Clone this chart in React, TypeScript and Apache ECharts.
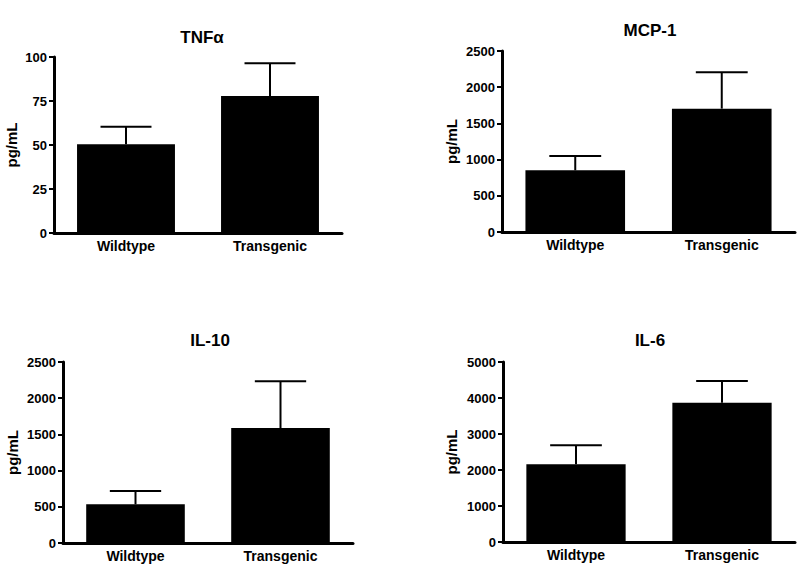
import React, { useEffect, useRef } from "react";
import * as echarts from "echarts";

const categories = ["Wildtype", "Transgenic"];
const titles = ["TNFα", "MCP-1", "IL-10", "IL-6"];
const tnfMeans = [50.4, 77.9];
const tnfErrors = [10.0, 18.5];
const mcpMeans = [852, 1704];
const mcpErrors = [198, 502];
const il10Means = [534, 1588];
const il10Errors = [184, 645];
const il6Means = [2159, 3865];
const il6Errors = [526, 609];
const yMax = [100, 2500, 2500, 5000];
const yInterval = [25, 500, 500, 1000];
const yName = "pg/mL";

const FONT = "'Liberation Sans', Arial, sans-serif";

export default function App() {
  const ref = useRef<HTMLDivElement>(null);
  useEffect(() => {
    if (!ref.current) return;
    const chart = echarts.init(ref.current, null, { renderer: "svg" });
    const means = [tnfMeans, mcpMeans, il10Means, il6Means];
    const errors = [tnfErrors, mcpErrors, il10Errors, il6Errors];
    const grids = [
      { left: 54, top: 57, width: 288, height: 176 },
      { left: 502, top: 51, width: 293, height: 181 },
      { left: 63, top: 362, width: 290, height: 181 },
      { left: 503, top: 362, width: 292, height: 180 },
    ];
    const titlePos = [
      { x: 197, y: 32 },
      { x: 645, y: 25 },
      { x: 205, y: 335 },
      { x: 645, y: 335 },
    ];
    const nameGaps = [35, 43, 43, 44];
    const option: any = {
      animation: false,
      backgroundColor: "#fff",
      textStyle: { fontFamily: FONT },
      title: titles.map((t, i) => ({
        text: t,
        left: titlePos[i].x,
        top: titlePos[i].y,
        textAlign: "center",
        textVerticalAlign: "middle",
        textStyle: { fontSize: 17, fontWeight: "bold", color: "#000", fontFamily: FONT },
      })),
      grid: grids.map((g) => ({ ...g, containLabel: false })),
      xAxis: grids.map((_, i) => ({
        type: "category",
        gridIndex: i,
        data: categories,
        boundaryGap: true,
        axisLine: { lineStyle: { color: "#000", width: 3 } },
        axisTick: { alignWithLabel: true, length: 5, lineStyle: { color: "#000", width: 2 } },
        axisLabel: { color: "#000", fontSize: 14, fontWeight: "bold", margin: 6, fontFamily: FONT },
        splitLine: { show: false },
      })),
      yAxis: grids.map((_, i) => ({
        type: "value",
        gridIndex: i,
        min: 0,
        max: yMax[i],
        interval: yInterval[i],
        name: yName,
        nameLocation: "middle",
        nameGap: nameGaps[i],
        nameTextStyle: { color: "#000", fontSize: 15, fontWeight: "bold", fontFamily: FONT },
        axisLine: { show: true, lineStyle: { color: "#000", width: 3 } },
        axisTick: { show: true, length: 5, lineStyle: { color: "#000", width: 2 } },
        axisLabel: {
          color: "#000",
          fontSize: 13,
          fontWeight: "bold",
          margin: 7,
          fontFamily: FONT,
          formatter: (v: number) => String(v),
        },
        splitLine: { show: false },
      })),
      series: [] as any[],
    };
    for (let i = 0; i < 4; i++) {
      option.series.push({
        type: "bar",
        xAxisIndex: i,
        yAxisIndex: i,
        data: means[i],
        barWidth: "68%",
        itemStyle: { color: "#000" },
      });
      option.series.push({
        type: "custom",
        xAxisIndex: i,
        yAxisIndex: i,
        encode: { x: 0, y: 1 },
        data: means[i].map((m, j) => [j, m, errors[i][j]]),
        renderItem: (params: any, api: any) => {
          const x = api.value(0);
          const mean = api.value(1);
          const err = api.value(2);
          const top = api.coord([x, mean + err]);
          const base = api.coord([x, mean]);
          const band = api.size([1, 0])[0];
          const hw = band * 0.177;
          return {
            type: "group",
            children: [
              {
                type: "line",
                shape: { x1: top[0], y1: base[1], x2: top[0], y2: top[1] },
                style: { stroke: "#000", lineWidth: 2 },
              },
              {
                type: "line",
                shape: { x1: top[0] - hw, y1: top[1], x2: top[0] + hw, y2: top[1] },
                style: { stroke: "#000", lineWidth: 2 },
              },
            ],
          };
        },
      });
    }
    chart.setOption(option);
    return () => chart.dispose();
  }, []);
  return (
    <div
      ref={ref}
      style={{ position: "absolute", left: 0, top: 0, width: 800, height: 568 }}
    />
  );
}
